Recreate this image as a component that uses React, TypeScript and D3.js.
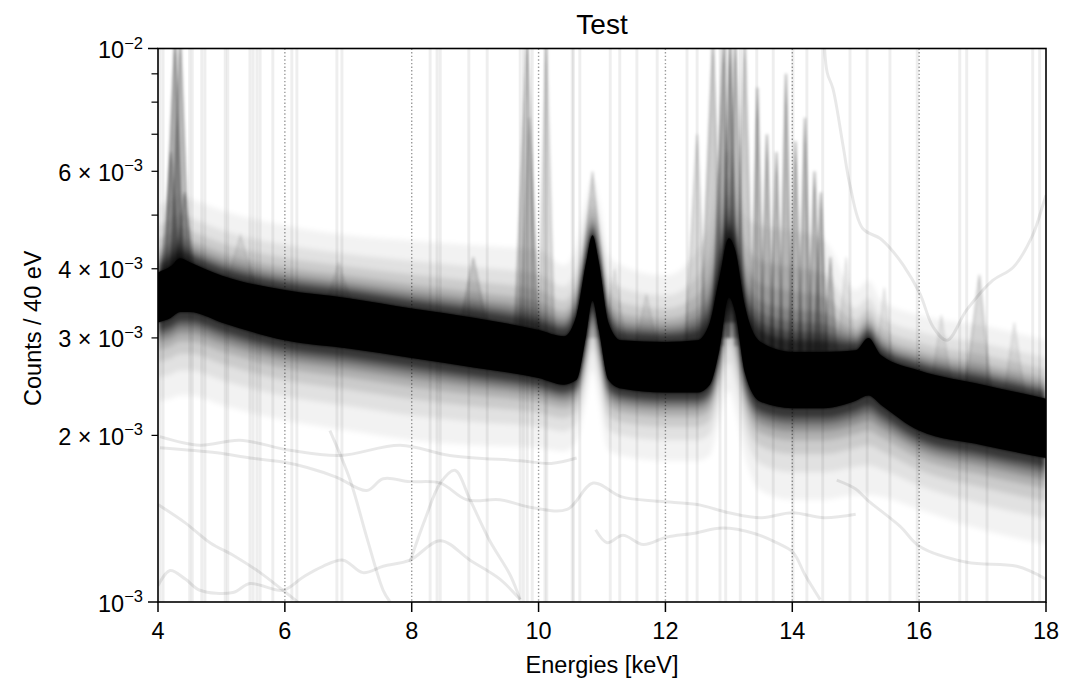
import React from 'react';
import * as d3 from 'd3';

// ---------- data (counts in units of 1e-3 counts / 40 eV) ----------
const UNIT = 1e-3;

// energy grid of the dense ensemble envelope (keV)
const ENERGY = [4.0, 4.2, 4.35, 4.5, 5.0, 6.0, 7.0, 8.0, 9.0, 10.0, 10.4, 10.6, 10.75, 10.85, 10.95, 11.1, 11.3, 12.0, 12.5, 12.7, 12.85, 13.0, 13.1, 13.25, 13.5, 14.0, 14.5, 15.0, 15.2, 15.4, 16.0, 17.0, 18.0];
// dense core of the spectra ensemble
const CORE_HIGH = [3.94, 4.04, 4.18, 4.11, 3.89, 3.66, 3.54, 3.39, 3.26, 3.10, 3.02, 3.30, 4.11, 4.60, 4.11, 3.20, 2.97, 2.95, 2.97, 3.20, 3.85, 4.54, 4.32, 3.44, 2.95, 2.83, 2.83, 2.85, 3.00, 2.79, 2.62, 2.47, 2.33];
const CORE_LOW = [3.20, 3.26, 3.34, 3.34, 3.20, 2.97, 2.87, 2.76, 2.65, 2.54, 2.47, 2.52, 3.03, 3.50, 3.10, 2.52, 2.43, 2.39, 2.39, 2.47, 2.85, 3.55, 3.34, 2.60, 2.30, 2.24, 2.24, 2.31, 2.36, 2.27, 2.04, 1.92, 1.82];
// outer extent of the grey scatter around the core
const HALO_HIGH = [5.21, 5.32, 5.43, 5.36, 5.10, 4.79, 4.60, 4.50, 4.41, 4.32, 4.06, 4.41, 5.32, 5.78, 5.32, 4.23, 4.06, 3.89, 4.32, 4.89, 6.03, 6.54, 6.03, 4.99, 4.79, 4.69, 4.50, 3.66, 3.81, 3.51, 3.30, 3.16, 2.97];
const HALO_LOW = [2.31, 2.33, 2.36, 2.36, 2.27, 2.13, 2.04, 1.96, 1.92, 1.90, 1.87, 1.96, 2.31, 2.62, 2.31, 1.88, 1.84, 1.80, 1.80, 1.84, 2.13, 2.41, 2.22, 1.84, 1.59, 1.53, 1.53, 1.56, 1.56, 1.55, 1.47, 1.35, 1.27];

// individual outlier spectra spikes: [eStart, ePeak, eEnd, baseValue, peakValue, nSpectra]
const SPIKES: number[][] = [
  [4.1, 4.27, 4.4, 3.7, 10.5, 5],
  [4.2, 4.35, 4.5, 3.7, 10.5, 4],
  [4.05, 4.2, 4.35, 3.7, 6.5, 3],
  [4.25, 4.42, 4.6, 3.6, 5.5, 3],
  [5.0, 5.3, 5.6, 3.5, 4.6, 1],
  [6.6, 6.85, 7.1, 3.3, 4.1, 1],
  [8.75, 8.97, 9.2, 3.1, 4.2, 2],
  [9.62, 9.82, 10.0, 3.0, 10.5, 3],
  [9.7, 9.85, 9.98, 3.0, 7.5, 2],
  [10.0, 10.12, 10.25, 2.9, 10.5, 2],
  [10.6, 10.85, 11.1, 3.0, 6.0, 2],
  [11.0, 11.2, 11.4, 2.8, 4.0, 1],
  [11.5, 11.7, 11.9, 2.8, 3.6, 1],
  [12.3, 12.5, 12.65, 2.8, 7.0, 2],
  [12.55, 12.75, 12.9, 2.9, 10.5, 3],
  [12.75, 12.92, 13.0, 3.0, 10.5, 5],
  [12.9, 13.02, 13.12, 3.2, 10.5, 6],
  [12.98, 13.1, 13.25, 3.0, 10.5, 4],
  [13.1, 13.25, 13.38, 2.9, 10.5, 3],
  [13.35, 13.45, 13.55, 2.8, 8.5, 4],
  [13.5, 13.6, 13.7, 2.8, 7.0, 4],
  [13.65, 13.75, 13.85, 2.8, 6.5, 4],
  [13.8, 13.9, 14.0, 2.8, 9.0, 4],
  [13.95, 14.05, 14.15, 2.8, 6.8, 4],
  [14.1, 14.2, 14.3, 2.8, 7.5, 4],
  [14.25, 14.35, 14.45, 2.8, 6.0, 4],
  [14.35, 14.45, 14.55, 2.8, 5.5, 4],
  [14.5, 14.6, 14.7, 2.8, 4.2, 3],
  [14.7, 14.85, 15.0, 2.7, 4.2, 1],
  [15.3, 15.45, 15.6, 2.6, 3.7, 1],
  [16.2, 16.35, 16.5, 2.5, 3.3, 1],
  [16.7, 16.95, 17.15, 2.3, 3.9, 2],
  [17.3, 17.5, 17.7, 2.2, 3.2, 1],
];

// energies of histogram steps that cross the whole range
const STEP_ENERGIES = [4.03, 4.08, 4.5, 4.54, 4.69, 4.74, 5.06, 5.1, 5.45, 5.5, 5.56, 5.61, 5.81, 6.11, 6.19, 6.82, 6.9, 8.29, 8.4, 8.45, 8.9, 9.19, 9.71, 9.76, 9.82, 9.9, 10.1, 10.13, 10.53, 10.55, 10.65, 11.13, 11.28, 11.55, 11.87, 12.34, 12.5, 12.86, 12.95, 13.18, 13.44, 13.7, 14.01, 14.23, 14.48, 14.91, 15.18, 15.54, 15.97, 16.64, 16.75, 17.07, 17.79, 17.9];

// faint deviant spectra
const T1_E = [4.0, 4.43, 4.82, 5.21, 5.61, 5.97, 6.3];
const T1_V = [1.50, 1.39, 1.28, 1.21, 1.13, 1.05, 0.98];
const T2_E = [4.03, 4.93, 5.45, 5.97, 6.35, 6.82, 7.29, 7.55, 7.97, 8.45, 8.87, 9.39, 9.91, 10.45, 10.86, 11.3, 11.9, 12.5, 13.0, 13.5, 14.0, 14.5, 15.0];
const T2_V = [1.90, 1.86, 1.82, 1.79, 1.75, 1.68, 1.59, 1.67, 1.65, 1.64, 1.53, 1.53, 1.48, 1.47, 1.64, 1.55, 1.52, 1.50, 1.45, 1.42, 1.45, 1.42, 1.44];
const T3_E = [10.9, 11.08, 11.33, 11.65, 12.02, 12.43, 12.9, 13.4, 13.75, 14.01, 14.2, 14.44];
const T3_V = [1.35, 1.28, 1.32, 1.27, 1.31, 1.33, 1.36, 1.33, 1.28, 1.23, 1.12, 1.01];
const T4_E = [4.03, 4.66, 5.29, 6.08, 6.87, 7.82, 8.6, 9.71, 10.2, 10.6];
const T4_V = [1.99, 1.92, 1.96, 1.88, 1.84, 1.92, 1.84, 1.80, 1.78, 1.82];
const T5_E = [4.0, 4.19, 4.43, 4.66, 5.18, 5.45, 5.97, 6.29, 6.6, 6.92, 7.23, 7.55, 7.97, 8.45, 8.92, 9.39, 9.71];
const T5_V = [1.07, 1.14, 1.10, 1.05, 1.04, 1.08, 1.05, 1.11, 1.16, 1.19, 1.13, 1.16, 1.19, 1.29, 1.19, 1.10, 1.01];
const T6_E = [6.71, 7.03, 7.29, 7.55, 7.66];
const T6_V = [2.04, 1.66, 1.31, 1.05, 1.0];
const T7_E = [7.97, 8.21, 8.45, 8.68, 8.92, 9.23, 9.55, 9.71];
const T7_V = [1.18, 1.41, 1.64, 1.73, 1.53, 1.29, 1.12, 1.01];
const T8_E = [14.5, 14.55, 14.64, 14.8, 14.91, 15.11, 15.38, 15.54, 15.75, 16.01, 16.22, 16.44, 16.75, 17.16, 17.48, 17.79, 17.95, 18.0];
const T8_V = [10.5, 9.05, 8.47, 6.68, 5.66, 4.73, 4.54, 4.36, 4.06, 3.61, 3.14, 2.97, 3.37, 3.81, 4.02, 4.60, 5.21, 5.43];
const T9_E = [14.7, 15.0, 15.18, 15.7, 16.01, 16.75, 17.54, 18.0];
const T9_V = [1.66, 1.60, 1.53, 1.37, 1.26, 1.18, 1.16, 1.10];
const TRACES = [[T1_E, T1_V], [T2_E, T2_V], [T3_E, T3_V], [T4_E, T4_V], [T5_E, T5_V], [T6_E, T6_V], [T7_E, T7_V], [T8_E, T8_V], [T9_E, T9_V]];

// axes
const X_TICKS = [4, 6, 8, 10, 12, 14, 16, 18];
const X_GRID = [6, 8, 10, 12, 14, 16];
const Y_MAJOR = [1e-3, 1e-2];
const Y_MINOR = [2e-3, 3e-3, 4e-3, 5e-3, 6e-3, 7e-3, 8e-3, 9e-3];
const Y_LABELS: [number, string, string][] = [
  [1e-3, '10', '\u22123'],
  [2e-3, '2 \u00d7 10', '\u22123'],
  [3e-3, '3 \u00d7 10', '\u22123'],
  [4e-3, '4 \u00d7 10', '\u22123'],
  [6e-3, '6 \u00d7 10', '\u22123'],
  [1e-2, '10', '\u22122'],
];

const TITLE = 'Test';
const X_LABEL = 'Energies [keV]';
const Y_LABEL = 'Counts / 40 eV';

// ---------- layout ----------
const W = 1069;
const H = 683;
const L = 158, R = 1046, T = 48.5, B = 602;
const FONT = '"Liberation Sans", Arial, Helvetica, sans-serif';
const FS = 23.5;

const HALO_LAYERS: [number, number][] = [
  [0, 0.05], [0.3, 0.07], [0.5, 0.1], [0.65, 0.14], [0.75, 0.2], [0.83, 0.3], [0.9, 0.45],
];

export default function App() {
  const x = d3.scaleLinear().domain([4, 18]).range([L, R]);
  const y = d3.scaleLog().domain([1e-3, 1e-2]).range([B, T]);

  const idx = ENERGY.map((_, i) => i);
  const yh = (arr: number[], i: number) => y(arr[i] * UNIT);

  const bandPath = (t: number) =>
    d3.area<number>()
      .x(i => x(ENERGY[i]))
      .y0(i => yh(HALO_LOW, i) + t * (yh(CORE_LOW, i) - yh(HALO_LOW, i)))
      .y1(i => yh(HALO_HIGH, i) + t * (yh(CORE_HIGH, i) - yh(HALO_HIGH, i)))
      .curve(d3.curveMonotoneX)(idx) || '';

  const corePath = d3.area<number>()
    .x(i => x(ENERGY[i]))
    .y0(i => yh(CORE_LOW, i))
    .y1(i => yh(CORE_HIGH, i))
    .curve(d3.curveMonotoneX)(idx) || '';

  const line = d3.line<[number, number]>()
    .x(d => x(d[0]))
    .y(d => y(d[1] * UNIT))
    .curve(d3.curveCatmullRom);

  const spikeLine = d3.line<[number, number]>()
    .x(d => x(d[0]))
    .y(d => y(d[1] * UNIT))
    .curve(d3.curveLinear);

  return (
    <svg width={W} height={H} viewBox={`0 0 ${W} ${H}`}
      style={{ position: 'absolute', left: 0, top: 0, background: '#fff', display: 'block' }}
      fontFamily={FONT}>
      <defs>
        <clipPath id="plotclip">
          <rect x={L} y={T} width={R - L} height={B - T} />
        </clipPath>
        <filter id="soft" x="-5%" y="-30%" width="110%" height="160%">
          <feGaussianBlur stdDeviation="2.5" />
        </filter>
        <filter id="soft2" x="-5%" y="-30%" width="110%" height="160%">
          <feGaussianBlur stdDeviation="1.4" />
        </filter>
      </defs>
      <rect x={0} y={0} width={W} height={H} fill="#fff" />

      <g clipPath="url(#plotclip)">
        {X_GRID.map(v => (
          <line key={'g' + v} x1={x(v)} x2={x(v)} y1={T} y2={B}
            stroke="#9a9a9a" strokeWidth={1.4} strokeDasharray="1.4,2.2" />
        ))}

        {STEP_ENERGIES.map((e, i) => (
          <line key={'s' + i} x1={x(e)} x2={x(e)} y1={T} y2={B}
            stroke="#000" strokeOpacity={0.065} strokeWidth={3} />
        ))}

        {TRACES.map(([es, vs], k) => (
          <path key={'t' + k}
            d={line(es.map((e, i) => [e, vs[i]] as [number, number])) || ''}
            fill="none" stroke="#000" strokeOpacity={0.09} strokeWidth={3} />
        ))}

        <g filter="url(#soft)">
          {HALO_LAYERS.map(([t, o], k) => (
            <path key={'h' + k} d={bandPath(t)} fill="#000" fillOpacity={o} />
          ))}
        </g>

        <g filter="url(#soft2)">
          {SPIKES.map((s, k) => {
            const pts: [number, number][] = [[s[0], s[3]], [s[1], s[4]], [s[2], s[3]]];
            return (
              <path key={'p' + k} d={spikeLine(pts) || ''} fill="#000"
                fillOpacity={1 - Math.pow(0.93, s[5])}
                stroke="#000" strokeOpacity={1 - Math.pow(0.9, s[5])} strokeWidth={1.5} />
            );
          })}
        </g>

        <path d={corePath} fill="#000" filter="url(#soft2)" />
        <path d={corePath} fill="#000" />
      </g>

      {/* frame */}
      <rect x={L} y={T} width={R - L} height={B - T} fill="none" stroke="#000" strokeWidth={1.6} />

      {/* x ticks */}
      {X_TICKS.map(v => (
        <g key={'xt' + v}>
          <line x1={x(v)} x2={x(v)} y1={B} y2={B + 10} stroke="#000" strokeWidth={1.5} />
          <text x={x(v)} y={639} textAnchor="middle" fontSize={FS} fill="#000">{v}</text>
        </g>
      ))}

      {/* y ticks */}
      {Y_MAJOR.map(v => (
        <line key={'ym' + v} x1={L - 10} x2={L} y1={y(v)} y2={y(v)} stroke="#000" strokeWidth={1.5} />
      ))}
      {Y_MINOR.map(v => (
        <line key={'yn' + v} x1={L - 6.5} x2={L} y1={y(v)} y2={y(v)} stroke="#000" strokeWidth={1.2} />
      ))}
      {Y_LABELS.map(([v, base, exp]) => (
        <text key={'yl' + v} x={143} y={y(v) + 9.5} textAnchor="end" fontSize={FS} fill="#000">
          {base}
          <tspan dy={-9.5} fontSize={16.5}>{exp}</tspan>
        </text>
      ))}

      {/* labels */}
      <text x={(L + R) / 2} y={34} textAnchor="middle" fontSize={28} fill="#000">{TITLE}</text>
      <text x={(L + R) / 2} y={673} textAnchor="middle" fontSize={FS} fill="#000">{X_LABEL}</text>
      <text transform={`translate(41, ${(T + B) / 2 + 3}) rotate(-90)`} textAnchor="middle" fontSize={FS} fill="#000">{Y_LABEL}</text>
    </svg>
  );
}
